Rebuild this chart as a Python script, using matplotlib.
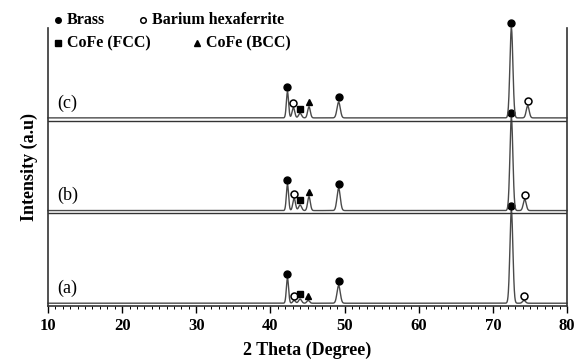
import matplotlib.pyplot as plt
import numpy as np

# peak list (2theta, relative intensity)
phase = ["brass", "hexa", "fcc", "bcc", "brass", "brass", "hexa"]
width = [0.15, 0.18, 0.2, 0.18, 0.22, 0.2, 0.2]

pos_a = [42.3, 43.2, 44.0, 45.1, 49.2, 72.5, 74.2]
int_a = [27, 3, 4.5, 3, 19, 100, 3]

pos_b = [42.3, 43.2, 44.0, 45.2, 49.2, 72.5, 74.3]
int_b = [28, 13, 6, 15, 24, 100, 12]

pos_c = [42.3, 43.1, 44.0, 45.2, 49.2, 72.5, 74.7]
int_c = [28, 11, 5, 12, 17, 97, 13]

labels = ["(a)", "(b)", "(c)"]
offsets = [3, 103, 203]

markers = {"brass": dict(marker="o", mfc="k", mec="k", ms=5),
           "hexa": dict(marker="o", mfc="white", mec="k", ms=5, mew=1.1),
           "fcc": dict(marker="s", mfc="k", mec="k", ms=5),
           "bcc": dict(marker="^", mfc="k", mec="k", ms=5)}

plt.rcParams["font.family"] = "Liberation Serif"

fig = plt.figure(figsize=(5.76, 3.63), dpi=100)
ax = fig.add_axes([48 / 576, 1 - 306 / 363, 519 / 576, 278 / 363])

tt = np.linspace(10, 80, 4001)
for pos, inten, off, lab in zip([pos_a, pos_b, pos_c], [int_a, int_b, int_c], offsets, labels):
    y = np.full_like(tt, off)
    for p, h, w in zip(pos, inten, width):
        y += h * np.exp(-0.5 * ((tt - p) / w) ** 2)
    ax.plot(tt, y, color="#4a4a4a", lw=1.0, clip_on=False)
    for p, h, ph in zip(pos, inten, phase):
        ax.plot(p, off + h + 5, ls="none", clip_on=False, **markers[ph])
    ax.text(11.2, off + 16, lab, fontsize=13, va="center")

for yl in (100, 200):
    ax.axhline(yl, color="#333333", lw=1.0)

ax.set_xlim(10, 80)
ax.set_ylim(0, 300)
ax.spines["top"].set_visible(False)
for s in ("left", "right", "bottom"):
    ax.spines[s].set_linewidth(1.2)
    ax.spines[s].set_color("#333333")
ax.set_yticks([])
ax.set_xticks(np.arange(10, 81, 10))
ax.set_xticks(np.arange(10, 81, 1), minor=True)
ax.tick_params(axis="x", which="major", direction="out", length=5, width=1, labelsize=12, pad=4)
ax.tick_params(axis="x", which="minor", direction="out", length=2.5, width=0.7)
for t in ax.get_xticklabels():
    t.set_fontweight("bold")
ax.set_xlabel("2 Theta (Degree)", fontsize=13, fontweight="bold", labelpad=5)
ax.set_ylabel("Intensity (a.u)", fontsize=13, fontweight="bold", labelpad=7)

# legend drawn at the top, in figure pixels
leg = [("brass", "Brass", 58, 20), ("hexa", "Barium hexaferrite", 143, 20),
       ("fcc", "CoFe (FCC)", 58, 43), ("bcc", "CoFe (BCC)", 197, 43)]
for ph, txt, px, py in leg:
    st = dict(markers[ph])
    st["ms"] = 4
    fig.add_artist(plt.Line2D([px / 576], [1 - py / 363], transform=fig.transFigure, ls="none", **st))
    fig.text((px + 9) / 576, 1 - py / 363, txt, fontsize=11.5, fontweight="bold", va="center")

fig.savefig("out.png", dpi=100)
